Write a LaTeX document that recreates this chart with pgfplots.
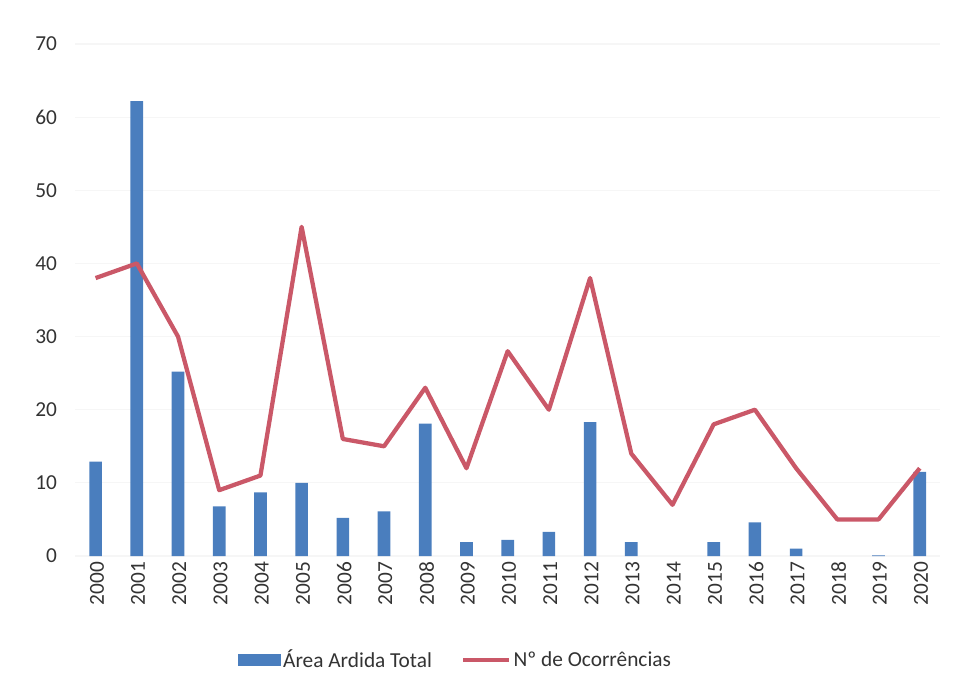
\documentclass[border=0pt]{standalone}
\usepackage{pgfplots}
\pgfplotsset{compat=1.18}
\usepackage{fontspec}
\setmainfont{Carlito}

\definecolor{barblue}{RGB}{74,126,190}
\definecolor{linered}{RGB}{202,88,104}

\begin{document}
\begin{tikzpicture}
\begin{axis}[
    name=ax,
    scale only axis,
    width=649pt, height=384pt,
    xmin=-0.5, xmax=20.5,
    ymin=0, ymax=70,
    ytick={0,10,...,70},
    xtick={0,...,20},
    xticklabels={2000,2001,2002,2003,2004,2005,2006,2007,2008,2009,2010,2011,2012,2013,2014,2015,2016,2017,2018,2019,2020},
    x tick label style={rotate=90, anchor=east, xshift=-1pt},
    /pgf/number format/assume math mode=true,
    tick label style={font=\fontsize{16}{19}\selectfont, text=black!80},
    yticklabel style={xshift=-10pt},
    xticklabel style={yshift=-1pt},
    major tick length=0pt,
    axis line style={draw=none},
    ymajorgrids=true,
    grid style={gray!7, line width=0.8pt},
    legend columns=2,
    legend style={at={(0.44,-0.203)}, anchor=center, draw=none,
        font=\fontsize{16}{19}\selectfont, text=black!80,
        /tikz/every even column/.append style={column sep=20pt}},
    ]

    % area ardida (2014 e 2018 sem area)
    \addplot[ybar, bar width=9.5pt, fill=barblue, draw=none,
        legend image code/.code={\fill[barblue] (0pt,-4.5pt) rectangle (32pt,4.5pt);}]
    coordinates {
        (0,12.9) (1,62.2) (2,25.2) (3,6.8) (4,8.7) (5,10.0) (6,5.2)
        (7,6.1) (8,18.1) (9,1.9) (10,2.2) (11,3.3) (12,18.3) (13,1.9)
        (15,1.9) (16,4.6) (17,1.0) (19,0.1) (20,11.5)
    };
    \addlegendentry{Área Ardida Total}

    % ocorrencias
    \addplot[linered, line width=3.2pt, line join=round, mark=none,
        legend image code/.code={\draw[linered, line width=3.2pt] (0pt,0pt) -- (34pt,0pt);}]
    coordinates {
        (0,38) (1,40) (2,30) (3,9) (4,11) (5,45) (6,16)
        (7,15) (8,23) (9,12) (10,28) (11,20) (12,38) (13,14)
        (14,7) (15,18) (16,20) (17,12) (18,5) (19,5) (20,12)
    };
    \addlegendentry{Nº de Ocorrências}
\end{axis}
\pgfresetboundingbox
\path ([shift={(-56.25pt,-94.5pt)}]ax.south west) rectangle ([shift={(666pt,417pt)}]ax.south west);
\end{tikzpicture}
\end{document}
